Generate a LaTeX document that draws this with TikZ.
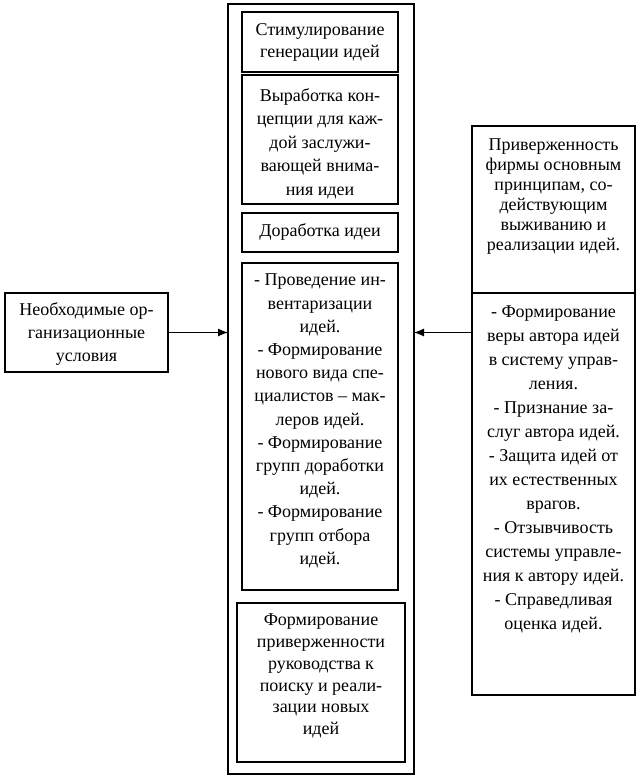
\documentclass[tikz,border=0pt]{standalone}
\usepackage{fontspec}
\setmainfont{Liberation Serif}
\usetikzlibrary{arrows.meta}
\begin{document}
\begin{tikzpicture}[x=1pt,y=-1pt,
  frame/.style={draw, line width=1.2pt, inner sep=0pt, outer sep=0pt},
  txt/.style={align=center, inner sep=0pt},
  arr/.style={-{Latex[length=10pt,width=8pt]}, line width=1.1pt}]
\useasboundingbox (0,0) rectangle (642,780);
% frames
\node[frame, minimum width=186pt, minimum height=770pt] (outer) at (321,389) {};
\node[frame, minimum width=156pt, minimum height=60pt] (b1) at (320,42) {};
\node[frame, minimum width=156pt, minimum height=129pt] (b2) at (320,139.5) {};
\node[frame, minimum width=156pt, minimum height=39pt] (b3) at (320,232.5) {};
\node[frame, minimum width=156pt, minimum height=327pt] (b4) at (320,426.5) {};
\node[frame, minimum width=168pt, minimum height=159pt] (b5) at (321,682.5) {};
\node[frame, minimum width=163pt, minimum height=79pt] (left) at (86.5,332.5) {};
\node[frame, minimum width=163pt, minimum height=167pt] (rt) at (553.5,209.5) {};
\node[frame, minimum width=163pt, minimum height=402pt] (rb) at (553.5,494) {};
% texts
\node[txt, font=\fontsize{18}{22}\selectfont] (t1) at (b1.center) {Стимулирование\\генерации идей};
\node[txt, font=\fontsize{18}{23.5}\selectfont] (t2) at (320,143.5) {Выработка кон-\\цепции для каж-\\дой заслужи-\\вающей внима-\\ния идеи};
\node[txt, font=\fontsize{18}{22}\selectfont] (t3) at (320,232) {Доработка идеи};
\node[txt, font=\fontsize{18}{23.2}\selectfont] (t4) at (320,421) {- Проведение ин-\\вентаризации\\идей.\\- Формирование\\нового вида спе-\\циалистов – мак-\\леров идей.\\- Формирование\\групп доработки\\идей.\\- Формирование\\групп отбора\\идей.};
\node[txt, font=\fontsize{18}{21.7}\selectfont] (t5) at (321,676) {Формирование\\приверженности\\руководства к\\поиску и реали-\\зации новых\\идей};
\node[txt, font=\fontsize{18}{23}\selectfont] (tl) at (86.5,334) {Необходимые ор-\\ганизационные\\условия};
\node[txt, font=\fontsize{18}{20}\selectfont] (trt) at (553.5,197) {Приверженность\\фирмы основным\\принципам, со-\\действующим\\выживанию и\\реализации идей.};
\node[txt, font=\fontsize{18}{24}\selectfont] (trb) at (553.5,469) {- Формирование\\веры автора идей\\в систему управ-\\ления.\\- Признание за-\\слуг автора идей.\\- Защита идей от\\их естественных\\врагов.\\- Отзывчивость\\системы управле-\\ния к автору идей.\\- Справедливая\\оценка идей.};
% connectors
\draw[arr] (left.east) -- (outer.west |- left.east);
\draw[arr] (rb.west |- left.east) -- (outer.east |- left.east);
\end{tikzpicture}
\end{document}
